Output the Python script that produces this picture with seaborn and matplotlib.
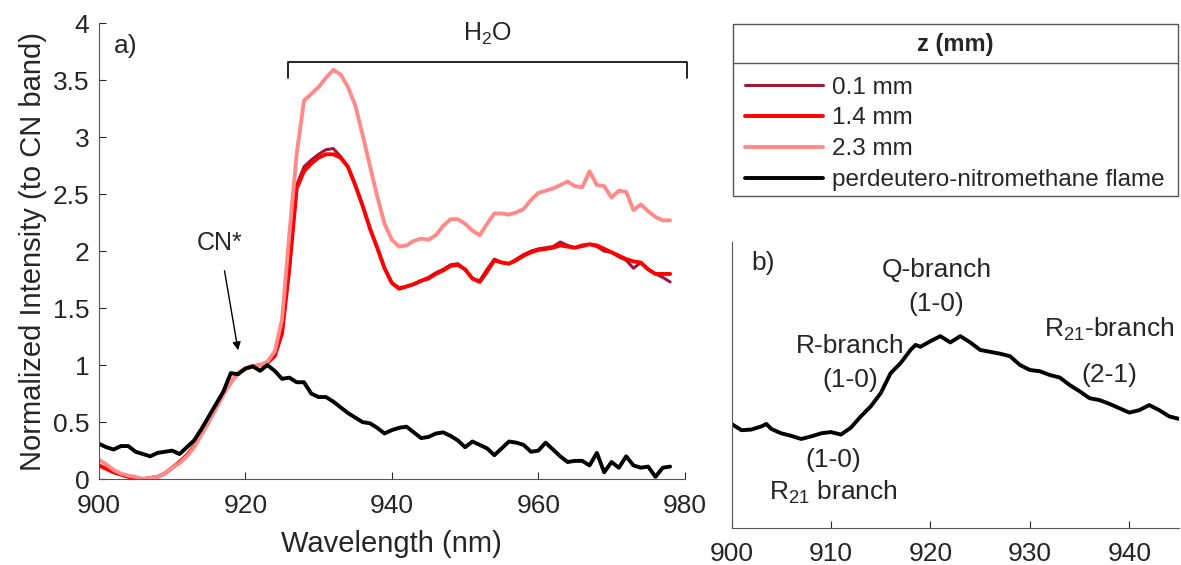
import numpy as np
import pandas as pd
import matplotlib
matplotlib.use("Agg")
import matplotlib.pyplot as plt
from matplotlib.lines import Line2D
from matplotlib.patches import Rectangle
import seaborn as sns

# wavelength grid (nm)
wavelength = list(range(900, 979))

z_01mm = [0.12, 0.09, 0.06, 0.04, 0.02, 0.01, 0.00, 0.01, 0.02, 0.05,
          0.10, 0.15, 0.21, 0.29, 0.40, 0.52, 0.63, 0.75, 0.85, 0.93,
          0.97, 0.99, 1.00, 1.02, 1.08, 1.28, 1.85, 2.58, 2.74, 2.80,
          2.85, 2.89, 2.90, 2.83, 2.74, 2.58, 2.40, 2.20, 2.03, 1.85,
          1.72, 1.68, 1.69, 1.71, 1.74, 1.77, 1.81, 1.84, 1.88, 1.89,
          1.84, 1.76, 1.74, 1.84, 1.93, 1.90, 1.89, 1.93, 1.97, 2.00,
          2.02, 2.03, 2.04, 2.08, 2.05, 2.03, 2.04, 2.06, 2.04, 2.00,
          1.99, 1.95, 1.92, 1.85, 1.90, 1.84, 1.80, 1.77, 1.73]

z_14mm = [0.12, 0.09, 0.06, 0.04, 0.02, 0.01, 0.00, 0.01, 0.02, 0.05,
          0.10, 0.15, 0.21, 0.29, 0.40, 0.52, 0.63, 0.75, 0.85, 0.93,
          0.97, 0.99, 1.00, 1.02, 1.08, 1.28, 1.85, 2.55, 2.70, 2.77,
          2.82, 2.85, 2.85, 2.82, 2.74, 2.58, 2.40, 2.20, 2.03, 1.85,
          1.72, 1.67, 1.69, 1.71, 1.74, 1.76, 1.80, 1.83, 1.87, 1.88,
          1.84, 1.76, 1.73, 1.82, 1.92, 1.90, 1.89, 1.92, 1.96, 1.99,
          2.01, 2.02, 2.03, 2.05, 2.04, 2.03, 2.05, 2.06, 2.05, 2.02,
          1.99, 1.96, 1.93, 1.91, 1.90, 1.84, 1.80, 1.80, 1.80]

z_23mm = [0.17, 0.13, 0.08, 0.05, 0.03, 0.02, 0.00, 0.01, 0.02, 0.05,
          0.10, 0.14, 0.20, 0.28, 0.39, 0.50, 0.62, 0.74, 0.85, 0.93,
          0.97, 0.99, 1.00, 1.03, 1.12, 1.40, 2.15, 2.85, 3.32, 3.38,
          3.44, 3.52, 3.59, 3.55, 3.44, 3.28, 3.02, 2.75, 2.48, 2.24,
          2.10, 2.04, 2.05, 2.09, 2.11, 2.10, 2.14, 2.22, 2.28, 2.28,
          2.24, 2.18, 2.14, 2.24, 2.33, 2.33, 2.32, 2.34, 2.37, 2.45,
          2.51, 2.53, 2.55, 2.58, 2.61, 2.57, 2.56, 2.70, 2.58, 2.57,
          2.47, 2.53, 2.52, 2.36, 2.41, 2.35, 2.30, 2.27, 2.27]

perdeutero = [0.31, 0.28, 0.26, 0.29, 0.29, 0.24, 0.22, 0.20, 0.23, 0.24,
              0.25, 0.22, 0.28, 0.34, 0.44, 0.55, 0.66, 0.77, 0.93, 0.92,
              0.97, 0.99, 0.95, 1.00, 0.95, 0.88, 0.89, 0.85, 0.85, 0.75,
              0.72, 0.72, 0.68, 0.63, 0.58, 0.54, 0.50, 0.49, 0.45, 0.40,
              0.43, 0.45, 0.46, 0.41, 0.36, 0.37, 0.40, 0.41, 0.38, 0.34,
              0.28, 0.33, 0.30, 0.27, 0.21, 0.27, 0.33, 0.32, 0.30, 0.24,
              0.25, 0.32, 0.26, 0.20, 0.15, 0.16, 0.16, 0.12, 0.23, 0.06,
              0.15, 0.10, 0.20, 0.12, 0.10, 0.11, 0.02, 0.10, 0.11]

# panel b: zoomed view of the flame spectrum
wavelength_b = [900, 901, 902, 903, 903.5, 904, 905, 906, 907, 908, 909, 910,
                911, 912, 913, 914, 915, 916, 917, 918, 918.5, 919, 920, 921,
                922, 923, 924, 925, 926, 927, 928, 929, 930, 931, 932, 933,
                934, 935, 936, 937, 938, 939, 940, 941, 942, 943, 944, 945]
perdeutero_b = [0.31, 0.26, 0.265, 0.29, 0.31, 0.27, 0.235, 0.215, 0.19, 0.21,
                0.235, 0.245, 0.225, 0.28, 0.37, 0.45, 0.555, 0.715, 0.795, 0.90,
                0.94, 0.925, 0.97, 1.01, 0.96, 1.01, 0.96, 0.90, 0.885, 0.87,
                0.85, 0.78, 0.74, 0.73, 0.70, 0.68, 0.62, 0.57, 0.515, 0.50,
                0.47, 0.435, 0.40, 0.42, 0.46, 0.42, 0.37, 0.35]

labels = ["0.1 mm", "1.4 mm", "2.3 mm", "perdeutero-nitromethane flame"]
colors = ["#a0173a", "#ff0000", "#ff8a8a", "#000000"]
widths = [2.2, 2.8, 2.8, 2.8]

sns.set_style("ticks")
plt.rcParams["font.family"] = ["Liberation Sans", "DejaVu Sans"]
plt.rcParams["mathtext.fontset"] = "custom"
plt.rcParams["mathtext.rm"] = "Liberation Sans"
plt.rcParams["mathtext.it"] = "Liberation Sans:italic"
plt.rcParams["mathtext.bf"] = "Liberation Sans:bold"

grey = "#555555"
txt = "#262626"

fig = plt.figure(figsize=(11.81, 5.65), dpi=100)
ax = fig.add_axes([0.0838, 0.152, 0.496, 0.807])
axb = fig.add_axes([0.6194, 0.0655, 0.379, 0.506])

series = [z_01mm, z_14mm, z_23mm, perdeutero]
for vals, lab, c, w in zip(series, labels, colors, widths):
    sns.lineplot(x=wavelength, y=vals, color=c, lw=w, label=lab, ax=ax, legend=False)

ax.set_xlim(900, 980)
ax.set_ylim(0, 4)
ax.set_xticks([900, 920, 940, 960, 980])
ax.set_yticks(np.arange(0, 4.01, 0.5))
ax.set_yticklabels(["0", "0.5", "1", "1.5", "2", "2.5", "3", "3.5", "4"])
ax.set_xlabel("Wavelength (nm)", fontsize=21, color=txt, labelpad=8)
ax.set_ylabel("Normalized Intensity (to CN band)", fontsize=21, color=txt, labelpad=4)
ax.tick_params(direction="in", labelsize=19, colors=txt, length=5)
ax.tick_params(axis="x", pad=11)
ax.tick_params(axis="y", pad=7)
for s in ["left", "bottom"]:
    ax.spines[s].set_color(grey)
ax.spines["top"].set_visible(False)
ax.spines["right"].set_visible(False)

ax.text(902, 3.8, "a)", fontsize=19, va="center")
# H2O bracket
ax.plot([925.8, 925.8, 980.3, 980.3], [3.52, 3.66, 3.66, 3.52], color="black", lw=1.2, clip_on=False)
ax.text(953, 3.91, "H$_2$O", fontsize=18, ha="center", va="center")
ax.annotate("CN*", xy=(919.0, 1.13), xytext=(916.5, 2.07), fontsize=18, ha="center", va="center",
            arrowprops=dict(arrowstyle="-|>", color="black", lw=1.0, shrinkA=9, shrinkB=0,
                            mutation_scale=12))

# panel b
sns.lineplot(x=wavelength_b, y=perdeutero_b, color="black", lw=2.8, ax=axb, legend=False)
axb.set_xlim(900, 945)
axb.set_ylim(-0.52, 1.76)
axb.set_xticks([900, 910, 920, 930, 940])
axb.set_yticks([])
axb.tick_params(direction="in", labelsize=19, colors=txt, length=5, pad=10)
for s in ["left", "bottom"]:
    axb.spines[s].set_color(grey)
axb.spines["top"].set_visible(False)
axb.spines["right"].set_visible(False)

fs_b = 19
axb.text(902, 1.59, "b)", fontsize=fs_b, va="center")
axb.text(920.6, 1.54, "Q-branch", fontsize=fs_b, ha="center", va="center")
axb.text(920.6, 1.27, "(1-0)", fontsize=fs_b, ha="center", va="center")
axb.text(911.9, 0.93, "R-branch", fontsize=fs_b, ha="center", va="center")
axb.text(911.9, 0.66, "(1-0)", fontsize=fs_b, ha="center", va="center")
axb.text(938.0, 1.06, "R$_{21}$-branch", fontsize=fs_b, ha="center", va="center")
axb.text(938.0, 0.70, "(2-1)", fontsize=fs_b, ha="center", va="center")
axb.text(910.2, 0.02, "(1-0)", fontsize=fs_b, ha="center", va="center")
axb.text(910.2, -0.24, "R$_{21}$ branch", fontsize=fs_b, ha="center", va="center")

# legend: outer box, title row separator, entries
W, H = 1181, 565
fig.patches.append(Rectangle((733 / W, 1 - 196 / H), 445 / W, 172 / H, transform=fig.transFigure,
                             facecolor="white", edgecolor=grey, lw=1.0))
fig.lines.append(Line2D([733 / W, 1178 / W], [1 - 63 / H, 1 - 63 / H], transform=fig.transFigure,
                        color=grey, lw=1.0))
fig.text(955 / W, 1 - 45 / H, "z (mm)", fontsize=17, fontweight="bold", ha="center", va="center")
handles = [Line2D([], [], color=c, lw=w) for c, w in zip(colors, widths)]
leg = fig.legend(handles, labels, loc="upper left",
                 bbox_to_anchor=(735 / W, 1 - 67 / H), borderaxespad=0,
                 fontsize=17.5, handlelength=3.2, handletextpad=0.4,
                 labelspacing=0.36, frameon=False, borderpad=0.4)

fig.savefig("out.png", dpi=100)
